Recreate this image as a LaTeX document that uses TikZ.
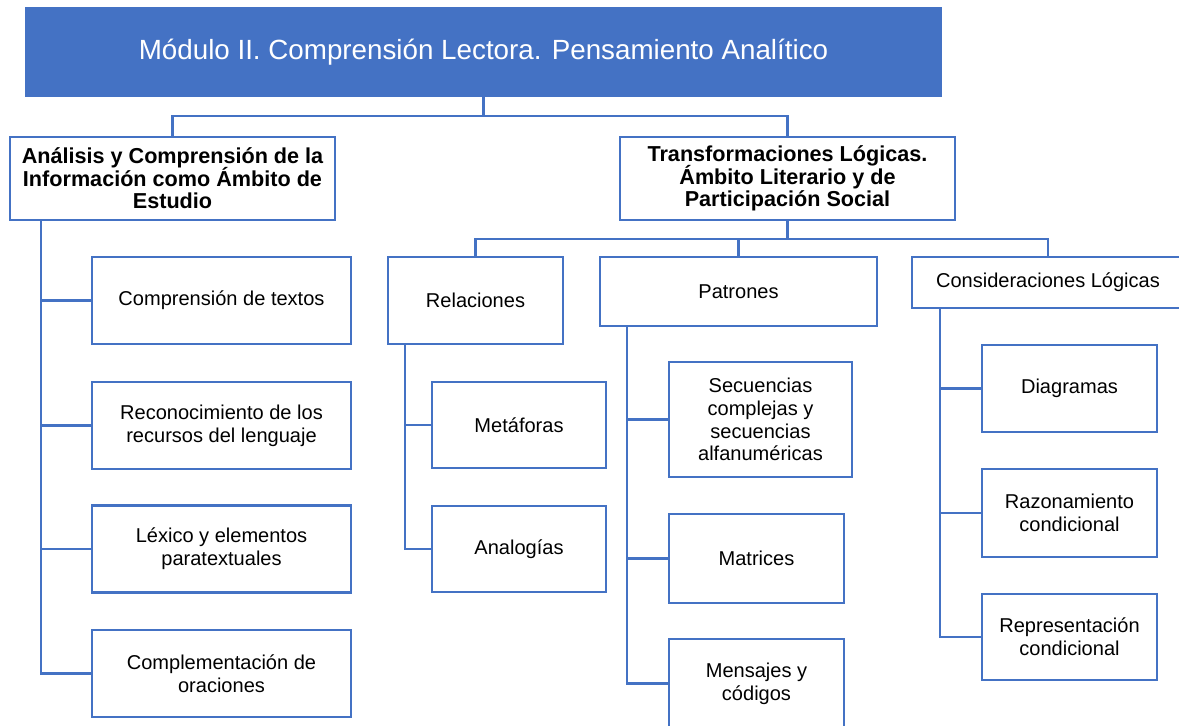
\documentclass[tikz,border=0pt]{standalone}
\usepackage{fontspec}
\setmainfont{Liberation Sans}
\definecolor{azul}{HTML}{4472C4}
\tikzset{
    caja/.style={draw=azul, line width=1.3pt, fill=white, align=center, inner sep=0pt,
        font={\fontsize{11.4}{13}\selectfont\lineskiplimit=-10pt}},
    cabeza/.style={caja, font={\fontsize{12.3}{12.8}\selectfont\bfseries\lineskiplimit=-10pt}},
    linea/.style={draw=azul, line width=1.4pt},
}
\begin{document}
\begin{tikzpicture}
    \useasboundingbox (0,0) rectangle (23.58,-14.52);

    \draw node (mod) [draw=azul, fill=azul, text=white, line width=1pt, minimum width=18.3cm, minimum height=1.76cm, font={\fontsize{15.8}{18}\selectfont}] at (9.67,-1.04) {Módulo II. Comprensión Lectora. Pensamiento Analítico};

    \draw node (ana) [cabeza, minimum width=6.5cm, minimum height=1.66cm] at (3.45,-3.57) {Análisis y Comprensión de la\\Información como Ámbito de\\Estudio};
    \draw node (tra) [cabeza, minimum width=6.7cm, minimum height=1.66cm] at (15.75,-3.57) {Transformaciones Lógicas.\\Ámbito Literario y de\\Participación Social};

    % rama izquierda
    \draw node (com) [caja, minimum width=5.18cm, minimum height=1.74cm] at (4.43,-6.01) {Comprensión de textos};
    \draw node (rec) [caja, minimum width=5.18cm, minimum height=1.74cm] at (4.43,-8.51) {Reconocimiento de los\\recursos del lenguaje};
    \draw node (lex) [caja, minimum width=5.18cm, minimum height=1.74cm] at (4.43,-10.98) {Léxico y elementos\\paratextuales};
    \draw node (ora) [caja, minimum width=5.18cm, minimum height=1.74cm] at (4.43,-13.47) {Complementación de\\oraciones};

    % rama derecha
    \draw node (rel) [caja, minimum width=3.5cm, minimum height=1.74cm] at (9.51,-6.01) {Relaciones};
    \draw node (pat) [caja, minimum width=5.54cm, minimum height=1.38cm] at (14.77,-5.83) {Patrones};
    \draw node (con) [caja, minimum width=5.44cm, minimum height=1.02cm] at (20.96,-5.65) {Consideraciones Lógicas};

    \draw node (met) [caja, minimum width=3.48cm, minimum height=1.72cm] at (10.38,-8.5) {Metáforas};
    \draw node (anl) [caja, minimum width=3.48cm, minimum height=1.72cm] at (10.38,-10.98) {Analogías};

    \draw node (sec) [caja, minimum width=3.66cm, minimum height=2.3cm] at (15.21,-8.39) {Secuencias\\complejas y\\secuencias\\alfanuméricas};
    \draw node (mat) [caja, minimum width=3.5cm, minimum height=1.78cm] at (15.13,-11.17) {Matrices};
    \draw node (men) [caja, minimum width=3.5cm, minimum height=1.78cm] at (15.13,-13.67) {Mensajes y\\códigos};

    \draw node (dia) [caja, minimum width=3.5cm, minimum height=1.74cm] at (21.39,-7.77) {Diagramas};
    \draw node (raz) [caja, minimum width=3.5cm, minimum height=1.76cm] at (21.39,-10.26) {Razonamiento\\condicional};
    \draw node (rep) [caja, minimum width=3.5cm, minimum height=1.72cm] at (21.39,-12.74) {Representación\\condicional};

    % conectores
    \draw [linea] (mod.south) -- ++(0,-0.38) -| (ana.north);
    \draw [linea] (mod.south) -- ++(0,-0.38) -| (tra.north);
    \draw [linea] (tra.south) -- ++(0,-0.36) -| (rel.north);
    \draw [linea] (tra.south) -- ++(0,-0.36) -| (pat.north);
    \draw [linea] (tra.south) -- ++(0,-0.36) -| (con.north);

    \draw [linea] (ana.south west) ++(0.64,0) |- (com.west);
    \draw [linea] (ana.south west) ++(0.64,0) |- (rec.west);
    \draw [linea] (ana.south west) ++(0.64,0) |- (lex.west);
    \draw [linea] (ana.south west) ++(0.64,0) |- (ora.west);

    \draw [linea] (rel.south west) ++(0.36,0) |- (met.west);
    \draw [linea] (rel.south west) ++(0.36,0) |- (anl.west);

    \draw [linea] (pat.south west) ++(0.56,0) |- (sec.west);
    \draw [linea] (pat.south west) ++(0.56,0) |- (mat.west);
    \draw [linea] (pat.south west) ++(0.56,0) |- (men.west);

    \draw [linea] (con.south west) ++(0.58,0) |- (dia.west);
    \draw [linea] (con.south west) ++(0.58,0) |- (raz.west);
    \draw [linea] (con.south west) ++(0.58,0) |- (rep.west);
\end{tikzpicture}
\end{document}
